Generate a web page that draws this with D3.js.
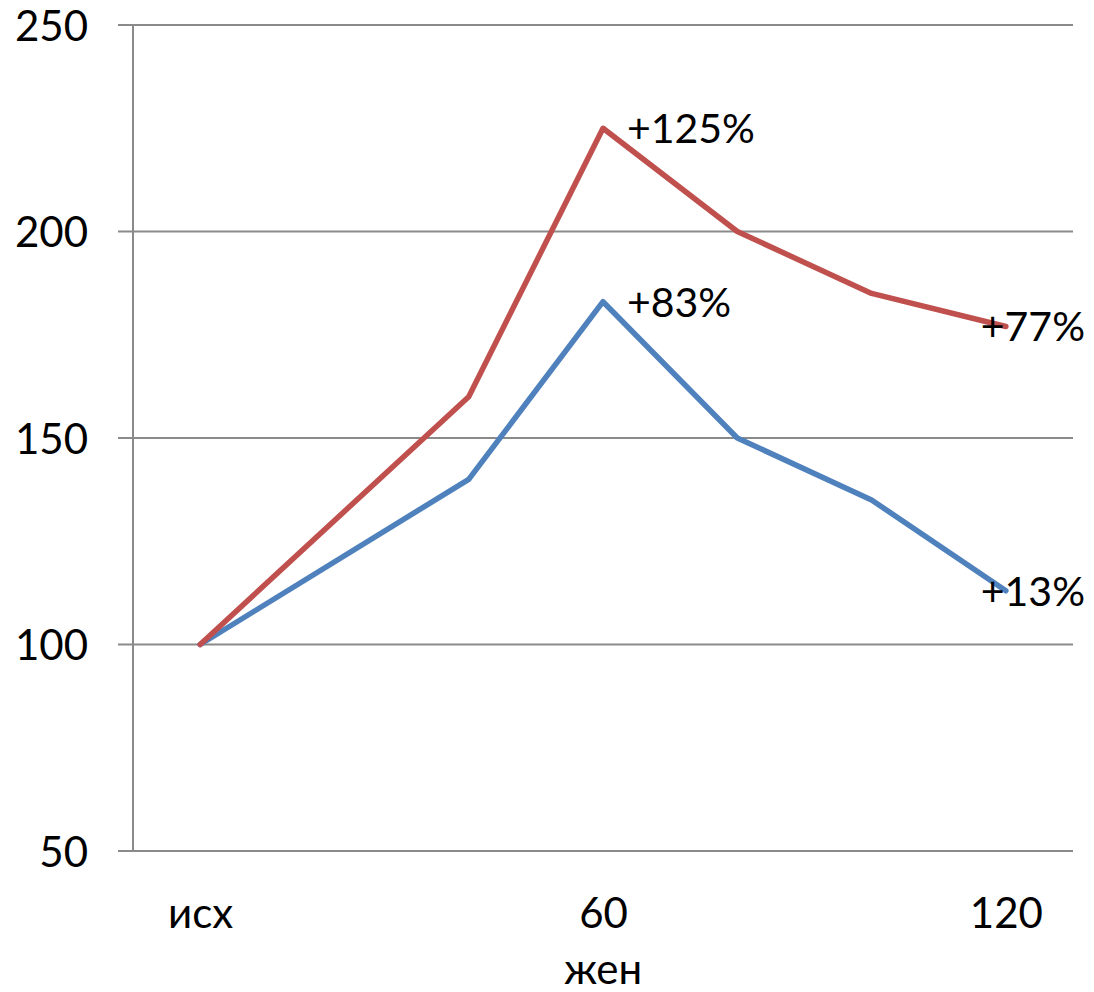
<!DOCTYPE html>
<html>
<head>
<meta charset="utf-8">
<script src="https://cdn.jsdelivr.net/npm/d3@7"></script>
<style>
  html, body { margin: 0; padding: 0; background: #fff; }
  svg { display: block; }
  text { font-family: Lato, "Open Sans", sans-serif; fill: #000; }
</style>
</head>
<body>
<svg id="chart" width="1094" height="992"></svg>
<script>
// ---- data ----
const categories = ["исх", "20", "40", "60", "80", "100", "120"];
const tickLabels = ["исх", "", "", "60", "", "", "120"];
const seriesBlue = [100, null, 140, 183, 150, 135, 113];
const seriesRed  = [100, null, 160, 225, 200, 185, 177];
const yTicks = [50, 100, 150, 200, 250];
const annotBlue = ["", "", "", "+83%", "", "", "+13%"];
const annotRed  = ["", "", "", "+125%", "", "", "+77%"];
const axisTitle = "жен";

// ---- layout ----
const W = 1094, H = 992;
const mLeft = 133, mRight = 1073, mTop = 25, mBottom = 851;
const svg = d3.select("#chart");

const x = d3.scalePoint()
  .domain(d3.range(categories.length))
  .range([mLeft, mRight])
  .padding(0.5);
const y = d3.scaleLinear().domain([50, 250]).range([mBottom, mTop]);

const gridColor = "#8a8a8a";

// gridlines + tick marks (extend left of axis)
svg.append("g")
  .selectAll("line")
  .data(yTicks)
  .join("line")
  .attr("x1", mLeft - 15)
  .attr("x2", mRight)
  .attr("y1", d => y(d))
  .attr("y2", d => y(d))
  .attr("stroke", gridColor)
  .attr("stroke-width", 2);

// y axis line
svg.append("line")
  .attr("x1", mLeft).attr("x2", mLeft)
  .attr("y1", mTop).attr("y2", mBottom)
  .attr("stroke", gridColor)
  .attr("stroke-width", 2);

// y axis labels via d3 axis
const yAxis = svg.append("g")
  .attr("transform", `translate(${mLeft - 45},0)`)
  .call(d3.axisLeft(y).tickValues(yTicks).tickSize(0).tickPadding(0));
yAxis.select(".domain").remove();
yAxis.selectAll("text")
  .attr("font-size", 42)
  .attr("font-family", "Lato, 'Open Sans', sans-serif")
  .attr("dy", "0.36em")
  .attr("fill", "#000");

// x axis labels via d3 axis
const xAxis = svg.append("g")
  .attr("transform", `translate(0,${mBottom})`)
  .call(d3.axisBottom(x).tickSize(0).tickFormat(i => tickLabels[i]));
xAxis.select(".domain").remove();
xAxis.selectAll("text")
  .attr("font-size", 42)
  .attr("font-family", "Lato, 'Open Sans', sans-serif")
  .attr("y", 77)
  .attr("dy", 0)
  .attr("fill", "#000");

// axis title
svg.append("text")
  .attr("x", (mLeft + mRight) / 2)
  .attr("y", 984)
  .attr("text-anchor", "middle")
  .attr("font-size", 42)
  .text(axisTitle);

// lines
const line = d3.line()
  .x(d => x(d.i))
  .y(d => y(d.v));

const series = [
  { values: seriesBlue, color: "#4F81BD", annot: annotBlue },
  { values: seriesRed,  color: "#C0504D", annot: annotRed }
];

series.forEach(s => {
  const pts = s.values.map((v, i) => ({ i, v })).filter(d => d.v !== null);
  svg.append("path")
    .datum(pts)
    .attr("d", line)
    .attr("fill", "none")
    .attr("stroke", s.color)
    .attr("stroke-width", 5.5)
    .attr("stroke-linejoin", "round")
    .attr("stroke-linecap", "round");
});

// annotations
series.forEach(s => {
  s.values.forEach((v, i) => {
    if (v === null || !s.annot[i]) return;
    const t = svg.append("text")
      .attr("font-size", 41)
      .attr("y", y(v) + 15)
      .text(s.annot[i]);
    const w = t.node().getComputedTextLength();
    let tx = x(i) + 24;
    if (tx + w > W - 9) tx = W - 9 - w;
    t.attr("x", tx);
  });
});
</script>
</body>
</html>
